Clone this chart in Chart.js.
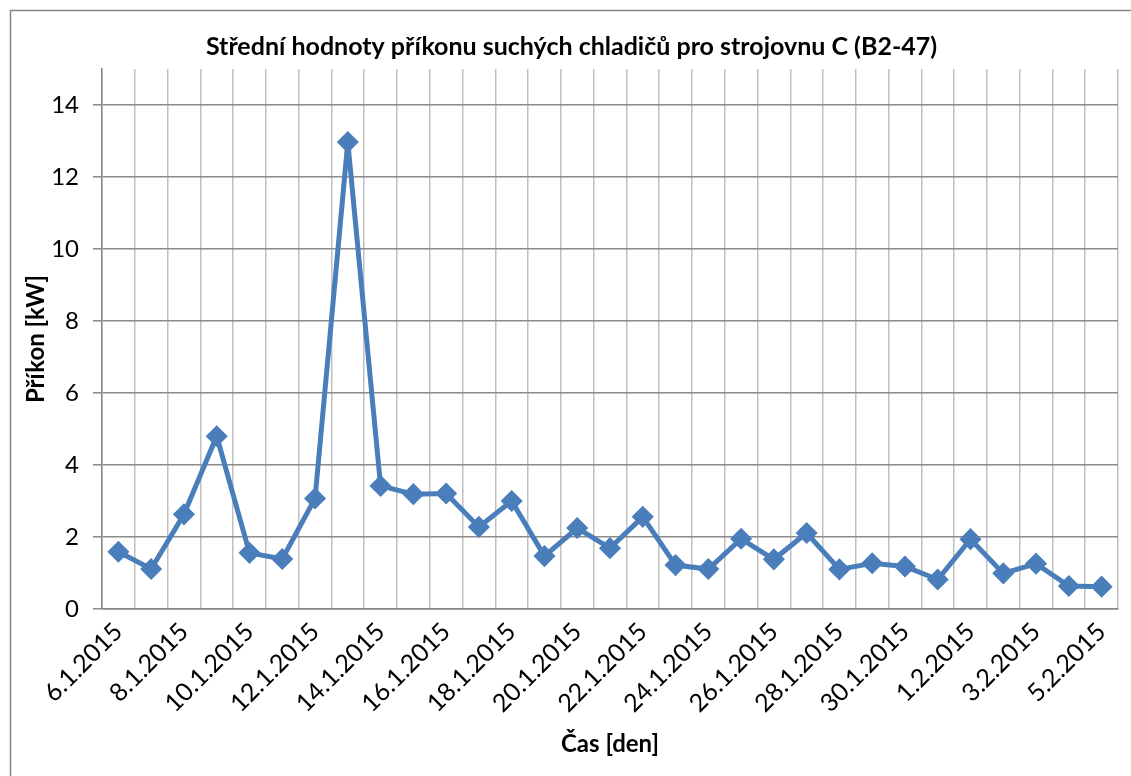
<!DOCTYPE html>
<html>
<head>
<meta charset="utf-8">
<script src="https://cdn.jsdelivr.net/npm/chart.js@4/dist/chart.umd.min.js"></script>
<style>
  html, body { margin: 0; padding: 0; background: #fff; }
  #wrap { width: 1131px; height: 776px; position: relative; }
</style>
</head>
<body>
<div id="wrap"><canvas id="c" width="1131" height="776"></canvas></div>
<script>
var days = ['6.1.2015','7.1.2015','8.1.2015','9.1.2015','10.1.2015','11.1.2015','12.1.2015',
  '13.1.2015','14.1.2015','15.1.2015','16.1.2015','17.1.2015','18.1.2015','19.1.2015',
  '20.1.2015','21.1.2015','22.1.2015','23.1.2015','24.1.2015','25.1.2015','26.1.2015',
  '27.1.2015','28.1.2015','29.1.2015','30.1.2015','31.1.2015','1.2.2015','2.2.2015',
  '3.2.2015','4.2.2015','5.2.2015'];
var prikon = [1.59, 1.11, 2.63, 4.80, 1.56, 1.39, 3.07, 12.97, 3.42, 3.19, 3.21, 2.28, 3.00, 1.47,
  2.25, 1.69, 2.56, 1.22, 1.11, 1.95, 1.38, 2.11, 1.10, 1.27, 1.18, 0.82, 1.94, 0.99,
  1.26, 0.64, 0.62];
var yTicks = [0, 2, 4, 6, 8, 10, 12, 14];

var chartTitle = 'Střední hodnoty příkonu suchých chladičů pro strojovnu C (B2-47)';
var xTitle = 'Čas [den]';
var yTitle = 'Příkon [kW]';

var FONT = 'Lato, Calibri, "Noto Sans", sans-serif';

// outer frame like the excel chart border
var frame = {
  id: 'frame',
  beforeDraw: function (chart) {
    var ctx = chart.ctx;
    ctx.save();
    ctx.fillStyle = '#fff';
    ctx.fillRect(0, 0, chart.width, chart.height);
    ctx.strokeStyle = '#868686';
    ctx.lineWidth = 1.5;
    ctx.strokeRect(10.5, 10.5, chart.width + 20, chart.height + 20);
    ctx.restore();
  }
};

var ctx = document.getElementById('c').getContext('2d');
new Chart(ctx, {
  type: 'line',
  data: {
    labels: days,
    datasets: [{
      data: prikon,
      borderColor: '#4A7EBB',
      backgroundColor: '#4A7EBB',
      borderWidth: 5,
      pointStyle: 'rectRot',
      pointRadius: 10,
      pointBorderWidth: 1.5,
      pointBackgroundColor: '#4A7EBB',
      pointBorderColor: '#4A7EBB',
      tension: 0
    }]
  },
  options: {
    responsive: false,
    animation: false,
    layout: { padding: { left: 22, right: 10, top: 0, bottom: 0 } },
    plugins: {
      legend: { display: false },
      tooltip: { enabled: false },
      title: {
        display: true,
        text: chartTitle,
        color: '#000',
        font: { family: FONT, size: 25, weight: 'bold' },
        padding: { top: 32, bottom: 7 }
      }
    },
    scales: {
      x: {
        type: 'category',
        offset: true,
        grid: { offset: true, color: '#c0c0c0', lineWidth: 1.5, drawTicks: false },
        border: { color: '#868686', width: 1.5 },
        ticks: {
          autoSkip: false,
          maxRotation: 45,
          minRotation: 45,
          padding: 8,
          color: '#000',
          font: { family: FONT, size: 25 },
          callback: function (v, i) { return i % 2 === 0 ? days[i] : ''; }
        },
        title: {
          display: true,
          text: xTitle,
          color: '#000',
          font: { family: FONT, size: 24, weight: 'bold' },
          padding: { top: 4, bottom: 17 }
        },
        afterFit: function (s) { s.height = 167; }
      },
      y: {
        min: 0,
        max: 15,
        afterBuildTicks: function (s) {
          s.ticks = yTicks.map(function (v) { return { value: v }; });
        },
        grid: { color: '#8c8c8c', lineWidth: 1.5, tickLength: 9 },
        border: { color: '#868686', width: 1.5 },
        ticks: {
          padding: 14,
          color: '#000',
          font: { family: FONT, size: 24 }
        },
        title: {
          display: true,
          text: yTitle,
          color: '#000',
          font: { family: FONT, size: 24, weight: 'bold' },
          padding: { top: 0, bottom: 0 }
        },
        afterFit: function (s) { s.width = 80; }
      }
    }
  },
  plugins: [frame]
});
</script>
</body>
</html>
